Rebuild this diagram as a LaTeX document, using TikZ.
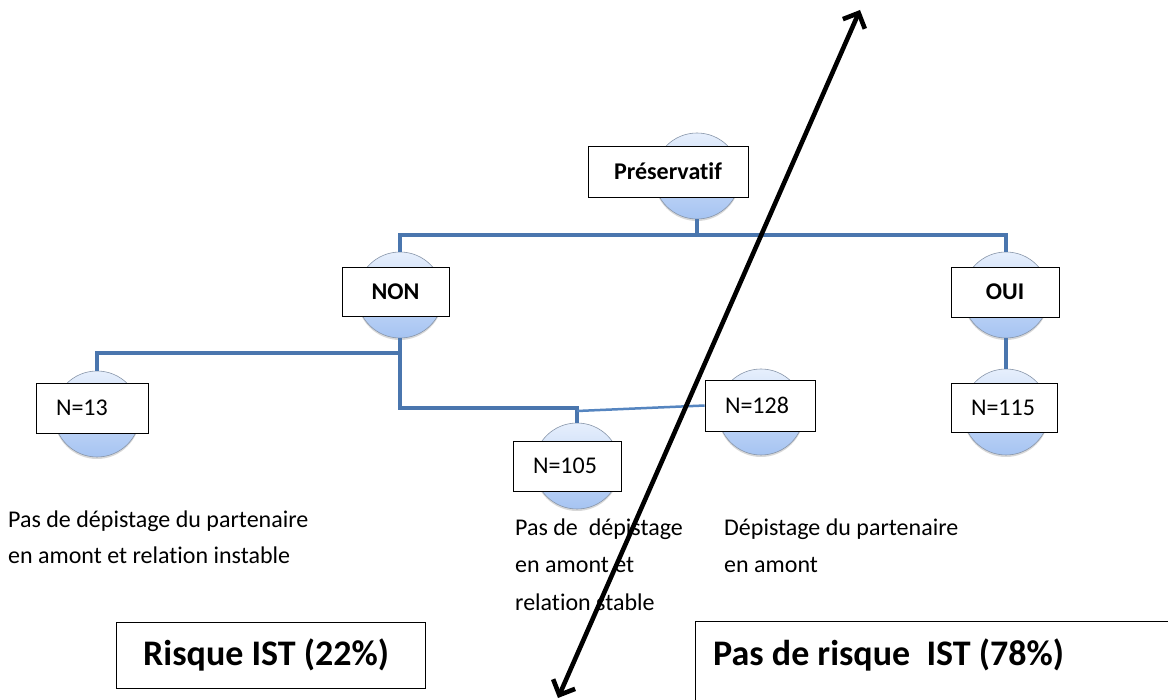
\documentclass[tikz,border=0pt]{standalone}
\usepackage{fontspec}
\setmainfont[Ligatures=NoCommon]{Carlito}
\usetikzlibrary{arrows.meta,shadows}
\definecolor{cblue}{HTML}{4A76AE}
\definecolor{cthin}{HTML}{5585C0}
\definecolor{balltop}{HTML}{E6EFFC}
\definecolor{ballbot}{HTML}{A6C4F2}
\definecolor{ballrim}{HTML}{8896AA}
\begin{document}
\begin{tikzpicture}[x=1pt,y=-1pt,
  ball/.style={circle,minimum size=86pt,inner sep=0pt,draw=ballrim,line width=0.6pt,
    top color=balltop,bottom color=ballbot,
    drop shadow={opacity=0.3,shadow xshift=0pt,shadow yshift=-2pt}},
  lab/.style={draw=black,fill=white,line width=0.8pt,inner sep=0pt,
    font=\fontsize{24}{28}\selectfont\bfseries},
  nbox/.style={draw=black,fill=white,line width=0.8pt,inner ysep=0pt,inner xsep=20pt,
    align=left,font=\fontsize{24}{28}\selectfont},
  conn/.style={draw=cblue,line width=4pt},
  thin/.style={draw=cthin,line width=2.5pt},
  txt/.style={anchor=base west,inner sep=0pt,font=\fontsize{24}{28}\selectfont},
  bigbox/.style={draw=black,line width=0.8pt,fill=white,anchor=north west,inner sep=0pt},
  bigtxt/.style={anchor=base west,inner sep=0pt,font=\fontsize{36}{40}\selectfont\bfseries},
  dblarrow/.style={draw=black,line width=4.6pt,
    {Straight Barb[length=12pt,width=24pt]}-{Straight Barb[length=12pt,width=24pt]}}]
\useasboundingbox (0,0) rectangle (1168,700);
\fill[white] (0,0) rectangle (1168,700);

% spheres
\node[ball] (cP) at (697,176) {};
\node[ball] (cNON) at (400,295) {};
\node[ball] (cOUI) at (1006,295) {};
\node[ball] (c13) at (97,414) {};
\node[ball] (c105) at (577,466) {};
\node[ball] (c128) at (761,412) {};
\node[ball] (c115) at (1006,412) {};

% connectors
\coordinate (bar) at (697,235);
\coordinate (jN) at (400,353);
\coordinate (jN2) at (577,408);
\coordinate (jT) at (577,411);
\draw[conn] (cP.south) -- (bar);
\draw[conn] (cNON.north) |- (bar) -| (cOUI.north);
\draw[conn] (cNON.south) -- (jN) -| (c13.north);
\draw[conn] (jN) |- (jN2) -- (c105.north);
\draw[conn] (cOUI.south) -- (c115.north);

% label boxes
\node[lab,minimum width=160pt,minimum height=51pt] (P) at (668,171.5) {Préservatif};
\node[lab,minimum width=107pt,minimum height=49pt] (NON) at (395.5,291.5) {NON};
\node[lab,minimum width=108pt,minimum height=50pt] (OUI) at (1005,292) {OUI};
\node[nbox,text width=72pt,minimum height=50pt] (N13) at (92,408) {N=13};
\node[nbox,text width=68pt,minimum height=50pt] (N105) at (567,466) {N=105};
\node[nbox,text width=70pt,minimum height=51pt] (N128) at (760,405.5) {N=128};
\node[nbox,text width=66pt,minimum height=49pt] (N115) at (1004,407.5) {N=115};
\draw[thin] (jT) -- (N128.west);

% texts
\node[txt] (t1a) at (8,528) {Pas de dépistage du partenaire};
\node[txt] (t1b) at (8,563) {en amont et relation instable};
\node[txt] (t2a) at (515,535) {Pas de\ \ dépistage};
\node[txt] (t2b) at (515,572) {en amont et};
\node[txt] (t2c) at (515,610) {relation stable};
\node[txt] (t3a) at (724,535) {Dépistage du partenaire};
\node[txt] (t3b) at (724,572) {en amont};

% result boxes
\node[bigbox,minimum width=309pt,minimum height=66pt] (R1) at (116,622) {};
\node[bigtxt] (R1t) at (143,665) {Risque IST (22\%)};
\node[bigbox,minimum width=520pt,minimum height=110pt] (R2) at (695,621) {};
\node[bigtxt] (R2t) at (713,665) {Pas de risque\ \ IST (78\%)};

% double arrow
\coordinate (aB) at (558,698);
\coordinate (aT) at (860,10);
\draw[dblarrow] (aB) -- (aT);
\end{tikzpicture}
\end{document}
